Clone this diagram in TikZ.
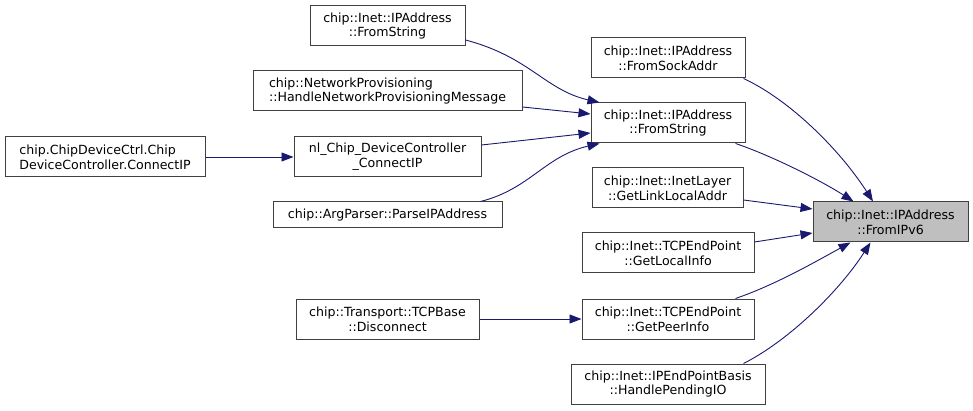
\documentclass[tikz,border=0pt]{standalone}
\usepackage{fontspec}
\setmainfont{DejaVu Sans}
\usepackage{tikz}
\usetikzlibrary{arrows.meta, calc}
\definecolor{edgeblue}{RGB}{25, 25, 112}
\definecolor{boxgrey}{RGB}{64, 64, 64}
\definecolor{focusgrey}{RGB}{191, 191, 191}

\tikzset{
    fnbox/.style={rectangle, draw=boxgrey, line width=1pt, inner sep=0pt,
                  minimum height=40pt, align=center,
                  font=\fontsize{12.6}{14.7}\selectfont},
    focus/.style={fnbox, fill=focusgrey},
    call/.style={edgeblue, line width=0.9pt,
                 -{Triangle[length=12pt, width=9pt]}}
}

\begin{document}
\begin{tikzpicture}[x=1pt, y=-1pt]
    \useasboundingbox (0,0) rectangle (973,411);
    % Callers of the callers
    \node[fnbox, minimum width=200pt, align=left] (ctrlIP) at (105,157)
        {chip.ChipDeviceCtrl.Chip\\DeviceController.ConnectIP};
    \node[fnbox, minimum width=155pt] (fsTop) at (387.5,26)
        {chip::Inet::IPAddress\\::FromString};
    \node[fnbox, minimum width=269pt, align=left] (netProv) at (387.5,91)
        {chip::NetworkProvisioning\\::HandleNetworkProvisioningMessage};
    \node[fnbox, minimum width=187pt] (nlConn) at (387.5,157)
        {nl\_Chip\_DeviceController\\\_ConnectIP};
    \node[fnbox, minimum width=229pt, minimum height=26pt] (argParse) at (387.5,215)
        {chip::ArgParser::ParseIPAddress};
    \node[fnbox, minimum width=183pt] (tcpDisc) at (387.5,319)
        {chip::Transport::TCPBase\\::Disconnect};
    % Direct callers
    \node[fnbox, minimum width=154pt] (fromSock) at (668,58)
        {chip::Inet::IPAddress\\::FromSockAddr};
    \node[fnbox, minimum width=154pt] (fromStr) at (668,123)
        {chip::Inet::IPAddress\\::FromString};
    \node[fnbox, minimum width=151pt] (linkLocal) at (667.5,188)
        {chip::Inet::InetLayer\\::GetLinkLocalAddr};
    \node[fnbox, minimum width=172pt] (localInfo) at (668,253)
        {chip::Inet::TCPEndPoint\\::GetLocalInfo};
    \node[fnbox, minimum width=172pt] (peerInfo) at (668,319)
        {chip::Inet::TCPEndPoint\\::GetPeerInfo};
    \node[fnbox, minimum width=194pt] (pendingIO) at (668,384)
        {chip::Inet::IPEndPointBasis\\::HandlePendingIO};
    % Function of the graph
    \node[focus, minimum width=155pt] (fromIPv6) at (890.5,222)
        {chip::Inet::IPAddress\\::FromIPv6};

    % Calls into FromString
    \draw[call] ($(fsTop.east)+(0,14)$) .. controls (530,57) and (545,90)
        .. ($(fromStr.north west)+(9,0)$);
    \draw[call] ($(netProv.east)+(0,16)$) -- ($(fromStr.west)+(0,-9)$);
    \draw[call] ($(nlConn.east)+(0,-12)$) -- ($(fromStr.west)+(0,10)$);
    \draw[call] ($(argParse.north east)+(-22,0)$) .. controls (530,189) and (545,156)
        .. ($(fromStr.south west)+(9,0)$);
    \draw[call] (ctrlIP.east) -- (nlConn.west);
    \draw[call] (tcpDisc.east) -- (peerInfo.west);
    % Calls into FromIPv6
    \draw[call] ($(fromSock.south east)+(-2,0)$) .. controls (790,100) and (840,150)
        .. ($(fromIPv6.north)+(-17.5,0)$);
    \draw[call] ($(fromStr.south east)+(-10,0)$) .. controls (770,155) and (820,180)
        .. ($(fromIPv6.north)+(-37,0)$);
    \draw[call] ($(linkLocal.east)+(0,12)$) -- ($(fromIPv6.west)+(0,-13)$);
    \draw[call] ($(localInfo.east)+(0,-11)$) -- ($(fromIPv6.west)+(0,11)$);
    \draw[call] ($(peerInfo.north east)+(-19,0)$) .. controls (775,285) and (815,262)
        .. ($(fromIPv6.south)+(-40,0)$);
    \draw[call] ($(pendingIO.north east)+(-22,0)$) .. controls (790,340) and (840,290)
        .. ($(fromIPv6.south)+(-20,0)$);
\end{tikzpicture}
\end{document}
